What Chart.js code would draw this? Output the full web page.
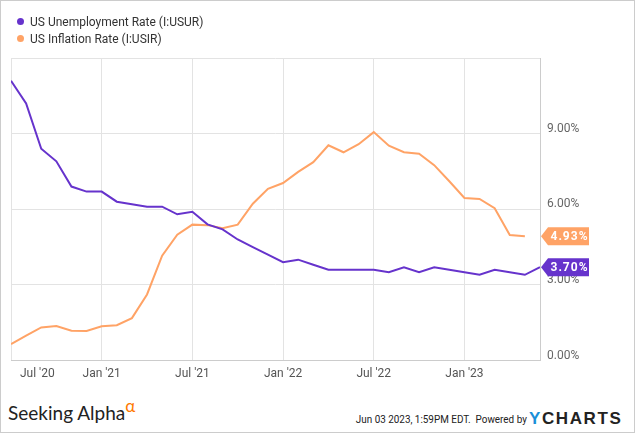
<!DOCTYPE html>
<html>
<head>
<meta charset="utf-8">
<script src="https://cdn.jsdelivr.net/npm/chart.js@4"></script>
<style>
  body { margin: 0; background: #fff; }
  #frame { position: relative; width: 633px; height: 431px; border: 1px solid #ccc; overflow: hidden; font-family: Roboto, sans-serif; }
  #chart-wrap { position: absolute; left: -1px; top: -1px; width: 635px; height: 385px; }
  .legend { position: absolute; left: 16px; font-size: 12px; color: #333; }
  .legend span.dot { display: inline-block; width: 7px; height: 7px; border-radius: 50%; margin-right: 6px; vertical-align: 1px; }
  #sa { position: absolute; left: 7px; top: 400px; font-family: Lato, sans-serif; font-size: 19px; color: #222; }
  #sa sup { color: #ff7a00; font-size: 17px; position: relative; top: -4px; vertical-align: top; line-height: 1; }
  #stamp { position: absolute; right: 107px; top: 411px; font-size: 11.5px; color: #222; transform: scaleX(0.86); transform-origin: right; white-space: pre; }
  #ych { position: absolute; left: 528px; top: 408px; font-family: "Liberation Sans", sans-serif; font-weight: bold; font-size: 17px; letter-spacing: 1.6px; color: #222; }
  #ych b { color: #1a8fd8; }
</style>
</head>
<body>
<div id="frame">
  <div id="chart-wrap"><canvas id="rates"></canvas></div>
  <div class="legend" style="top:14px"><span class="dot" style="background:#6633cc"></span>US Unemployment Rate (I:USUR)</div>
  <div class="legend" style="top:31px"><span class="dot" style="background:#ffa366"></span>US Inflation Rate (I:USIR)</div>
  <div id="sa">Seeking Alpha<sup>α</sup></div>
  <div id="stamp">Jun 03 2023, 1:59PM EDT.  Powered by</div>
  <div id="ych"><b>Y</b>CHARTS</div>
</div>
<script>
// monthly values, Jun 2020 .. May 2023 (plotted at month end)
const months = ['Jun 20','Jul 20','Aug 20','Sep 20','Oct 20','Nov 20','Dec 20',
  'Jan 21','Feb 21','Mar 21','Apr 21','May 21','Jun 21','Jul 21','Aug 21','Sep 21','Oct 21','Nov 21','Dec 21',
  'Jan 22','Feb 22','Mar 22','Apr 22','May 22','Jun 22','Jul 22','Aug 22','Sep 22','Oct 22','Nov 22','Dec 22',
  'Jan 23','Feb 23','Mar 23','Apr 23','May 23'];
const unemployment = [11.1,10.2,8.4,7.9,6.9,6.7,6.7,
  6.3,6.2,6.1,6.1,5.8,5.9,5.4,5.2,4.8,4.5,4.2,3.9,
  4.0,3.8,3.6,3.6,3.6,3.6,3.5,3.7,3.5,3.7,3.6,3.5,
  3.4,3.6,3.5,3.4,3.7];
const inflation = [0.65,0.99,1.31,1.37,1.18,1.17,1.36,
  1.40,1.68,2.62,4.16,4.99,5.39,5.37,5.25,5.39,6.22,6.81,7.04,
  7.48,7.87,8.54,8.26,8.58,9.06,8.52,8.26,8.20,7.75,7.11,6.45,
  6.41,6.04,4.98,4.93];
const xTickPos = [0,6,12,18,24,30,35];
const xTickLabels = ["   Jul '20","Jan '21","Jul '21","Jan '22","Jul '22","Jan '23",""];
const yTicks = [0,3,6,9,12];

const purple = '#6633cc';
const orange = '#ffa366';

const toPoints = arr => arr.map((v, i) => ({x: i, y: v}));

// value tags at right edge of the plot
const endTags = {
  id: 'endTags',
  afterDatasetsDraw(chart) {
    const {ctx, chartArea, scales} = chart;
    chart.data.datasets.forEach(ds => {
      const last = ds.data[ds.data.length - 1].y;
      const y = scales.y.getPixelForValue(last);
      const tip = chartArea.right + 1;
      const l = tip + 7, r = tip + 48, h = 9;
      ctx.save();
      ctx.fillStyle = ds.borderColor;
      ctx.beginPath();
      ctx.moveTo(tip, y);
      ctx.lineTo(l, y - h);
      ctx.lineTo(r, y - h);
      ctx.lineTo(r, y + h);
      ctx.lineTo(l, y + h);
      ctx.closePath();
      ctx.fill();
      ctx.fillStyle = '#fff';
      ctx.font = 'bold 12px Roboto';
      ctx.textAlign = 'center';
      ctx.textBaseline = 'middle';
      if ('letterSpacing' in ctx) ctx.letterSpacing = '1px';
      ctx.fillText(last.toFixed(2) + '%', (l + r) / 2 + 1, y + 1);
      ctx.restore();
    });
  }
};

new Chart(document.getElementById('rates'), {
  type: 'line',
  data: {
    datasets: [
      { label: 'US Unemployment Rate (I:USUR)', data: toPoints(unemployment), borderColor: purple, backgroundColor: purple, borderWidth: 2, pointRadius: 0, tension: 0 },
      { label: 'US Inflation Rate (I:USIR)', data: toPoints(inflation), borderColor: orange, backgroundColor: orange, borderWidth: 2, pointRadius: 0, tension: 0 }
    ]
  },
  options: {
    responsive: true,
    maintainAspectRatio: false,
    animation: false,
    layout: { padding: { left: 11, top: 58, right: 0, bottom: 0 } },
    plugins: { legend: { display: false }, tooltip: { enabled: false } },
    scales: {
      x: {
        type: 'linear',
        min: 0,
        max: months.length - 1,
        afterBuildTicks: s => { s.ticks = xTickPos.map(v => ({value: v})); },
        afterFit: s => { s.height = 24.5; },
        grid: { color: '#e3e3e3', drawTicks: false },
        border: { color: '#ccc' },
        ticks: {
          align: 'inner',
          autoSkip: false,
          maxRotation: 0,
          padding: 6,
          color: '#555',
          font: { family: 'Roboto', size: 12 },
          callback: v => xTickLabels[xTickPos.indexOf(v)]
        }
      },
      y: {
        position: 'right',
        min: 0,
        max: 12,
        afterBuildTicks: s => { s.ticks = yTicks.map(v => ({value: v})); },
        afterFit: s => { s.width = 95; },
        grid: { color: '#e3e3e3', drawTicks: false },
        border: { color: '#ccc' },
        ticks: {
          padding: 7,
          labelOffset: -5,
          color: '#666',
          font: { family: 'Roboto', size: 12 },
          callback: v => v === 12 ? '' : v.toFixed(2) + '%'
        }
      }
    }
  },
  plugins: [endTags]
});
</script>
</body>
</html>
